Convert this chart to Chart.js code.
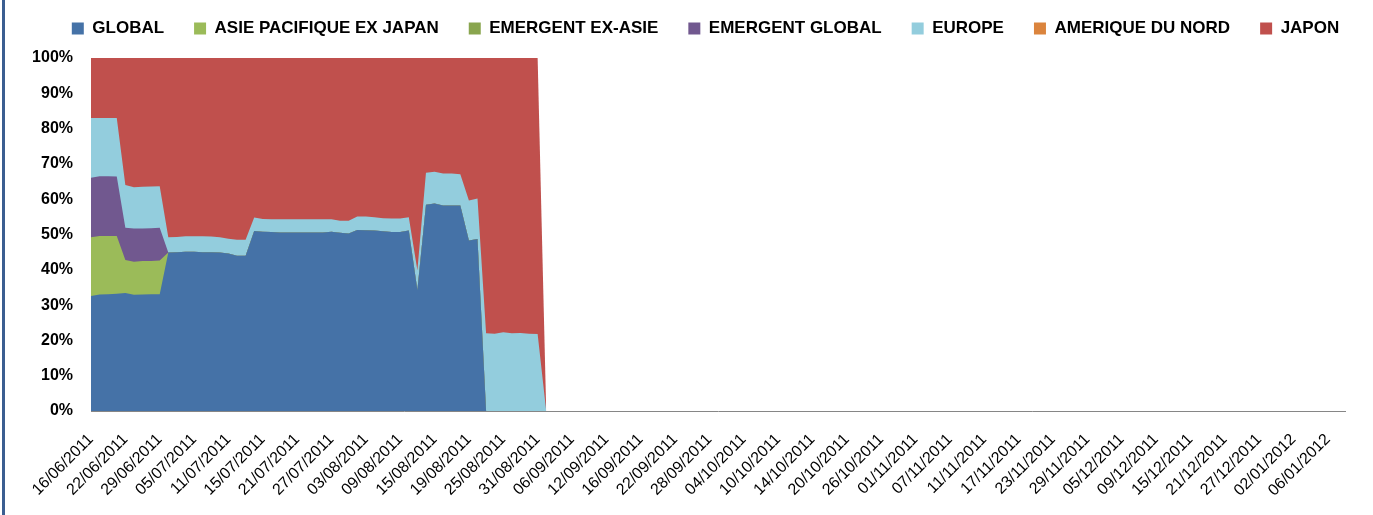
<!DOCTYPE html>
<html>
<head>
<meta charset="utf-8">
<script src="https://cdn.jsdelivr.net/npm/chart.js@4.4.1/dist/chart.umd.min.js"></script>
<style>
  html, body { margin: 0; padding: 0; background: #fff; }
  #wrap { position: relative; width: 1373px; height: 515px; overflow: hidden; }
  #chart { position: absolute; left: 0; top: -10px; }
  #edge { position: absolute; left: 2px; top: 0; width: 3px; height: 515px; background: #3b5e91; }
</style>
</head>
<body>
<div id="wrap">
  <canvas id="chart" width="1373" height="523"></canvas>
  <div id="edge"></div>
</div>
<script>
// Trading days from 16/06/2011 (two days absent from the sheet), label every 4 days
const startDate = new Date(2011, 5, 16);
const dayCount = 147;
const labelStep = 4;
const missingDays = ['24/06/2011', '29/07/2011'];

const categories = [];
for (let d = new Date(startDate); categories.length < dayCount; d.setDate(d.getDate() + 1)) {
  const wd = d.getDay();
  if (wd === 0 || wd === 6) continue;
  const dd = String(d.getDate()).padStart(2, '0');
  const mm = String(d.getMonth() + 1).padStart(2, '0');
  const txt = dd + '/' + mm + '/' + d.getFullYear();
  if (missingDays.includes(txt)) continue;
  categories.push(txt);
}

const globalShare = [
  32.6, 33.0, 33.1, 33.2, 33.4, 32.9, 33.0, 33.1, 33.1, 44.9,
  45.0, 45.1, 45.1, 45.0, 45.0, 44.9, 44.6, 44.0, 44.0, 51.0,
  50.8, 50.7, 50.6, 50.6, 50.6, 50.6, 50.6, 50.6, 50.8, 50.5,
  50.3, 51.3, 51.2, 51.1, 50.9, 50.7, 50.7, 51.1, 34.3, 58.4,
  58.8, 58.2, 58.2, 58.2, 48.3, 48.7, 0, 0, 0, 0,
  0, 0, 0, 0
];
const asiePacShare = [
  16.6, 16.6, 16.5, 16.4, 9.4, 9.4, 9.5, 9.4, 9.5, 0,
  0, 0, 0, 0, 0, 0, 0, 0, 0, 0,
  0, 0, 0, 0, 0, 0, 0, 0, 0, 0,
  0, 0, 0, 0, 0, 0, 0, 0, 0, 0,
  0, 0, 0, 0, 0, 0, 0, 0, 0, 0,
  0, 0, 0, 0
];
const emergentExAsieShare = [
  0, 0, 0, 0, 0, 0, 0, 0, 0, 0,
  0, 0, 0, 0, 0, 0, 0, 0, 0, 0,
  0, 0, 0, 0, 0, 0, 0, 0, 0, 0,
  0, 0, 0, 0, 0, 0, 0, 0, 0, 0,
  0, 0, 0, 0, 0, 0, 0, 0, 0, 0,
  0, 0, 0, 0
];
const emergentGlobalShare = [
  16.9, 16.9, 16.9, 16.8, 9.1, 9.4, 9.2, 9.3, 9.3, 0,
  0, 0, 0, 0, 0, 0, 0, 0, 0, 0,
  0, 0, 0, 0, 0, 0, 0, 0, 0, 0,
  0, 0, 0, 0, 0, 0, 0, 0, 0, 0,
  0, 0, 0, 0, 0, 0, 0, 0, 0, 0,
  0, 0, 0, 0
];
const europeShare = [
  16.9, 16.5, 16.5, 16.6, 12.1, 11.7, 11.8, 11.8, 11.8, 4.3,
  4.3, 4.4, 4.4, 4.5, 4.4, 4.3, 4.2, 4.5, 4.5, 3.8,
  3.6, 3.6, 3.7, 3.7, 3.7, 3.7, 3.7, 3.7, 3.5, 3.4,
  3.6, 3.8, 3.9, 3.8, 3.7, 3.8, 3.8, 3.8, 5.6, 9.1,
  9.0, 9.1, 9.1, 8.9, 11.3, 11.5, 22.0, 21.9, 22.3, 22.0,
  22.1, 21.9, 21.8, 0
];
const ameriqueShare = [
  0, 0, 0, 0, 0, 0, 0, 0, 0, 0,
  0, 0, 0, 0, 0, 0, 0, 0, 0, 0,
  0, 0, 0, 0, 0, 0, 0, 0, 0, 0,
  0, 0, 0, 0, 0, 0, 0, 0, 0, 0,
  0, 0, 0, 0, 0, 0, 0, 0, 0, 0,
  0, 0, 0, 0
];
const japonShare = [
  17.0, 17.0, 17.0, 17.0, 36.0, 36.6, 36.5, 36.4, 36.3, 50.8,
  50.7, 50.5, 50.5, 50.5, 50.6, 50.8, 51.2, 51.5, 51.5, 45.2,
  45.6, 45.7, 45.7, 45.7, 45.7, 45.7, 45.7, 45.7, 45.7, 46.1,
  46.1, 44.9, 44.9, 45.1, 45.4, 45.5, 45.5, 45.1, 60.1, 32.5,
  32.2, 32.7, 32.7, 32.9, 40.4, 39.8, 78.0, 78.1, 77.7, 78.0,
  77.9, 78.1, 78.2, 0
];

const yTicks = [0, 10, 20, 30, 40, 50, 60, 70, 80, 90, 100];

function area(label, data, color, filled) {
  return {
    label: label,
    data: data,
    backgroundColor: color,
    borderColor: color,
    borderWidth: 0,
    pointRadius: 0,
    fill: filled ? 'origin' : false,
  };
}

// more room under the legend, and move the legend row a bit to the right
const legendSpacing = {
  id: 'legendSpacing',
  beforeInit(chart) {
    const fit = chart.legend.fit;
    chart.legend.fit = function () {
      fit.call(this);
      this.height += 11;
    };
  },
  afterLayout(chart) {
    chart.legend.left += 33;
    chart.legend.right += 33;
  },
};

const ctx = document.getElementById('chart').getContext('2d');
new Chart(ctx, {
  type: 'line',
  data: {
    labels: categories,
    datasets: [
      area('GLOBAL', globalShare, '#4572a7', true),
      area('ASIE PACIFIQUE EX JAPAN', asiePacShare, '#9bbb59', true),
      area('EMERGENT EX-ASIE', emergentExAsieShare, '#89a54e', false),
      area('EMERGENT GLOBAL', emergentGlobalShare, '#71588f', true),
      area('EUROPE', europeShare, '#93cddd', true),
      area('AMERIQUE DU NORD', ameriqueShare, '#db843d', false),
      area('JAPON', japonShare, '#c0504d', true),
    ],
  },
  plugins: [legendSpacing],
  options: {
    responsive: false,
    animation: false,
    layout: { padding: { left: 0, right: 28, top: 0, bottom: 0 } },
    elements: { line: { tension: 0, borderWidth: 0 } },
    scales: {
      x: {
        grid: { display: false },
        border: { display: true, color: '#868686', width: 1 },
        ticks: {
          autoSkip: false,
          maxRotation: 45,
          minRotation: 45,
          padding: 11,
          color: '#000',
          font: { family: 'Liberation Sans', size: 16 },
          callback: (v, i) => (i % labelStep === 0 ? categories[i] : ''),
        },
        afterFit: (s) => { s.height = 102; },
      },
      y: {
        stacked: true,
        min: 0,
        max: 100,
        afterBuildTicks: (s) => { s.ticks = yTicks.map((v) => ({ value: v })); },
        grid: { display: false },
        border: { display: true, color: '#868686', width: 1 },
        ticks: {
          padding: 10,
          color: '#000',
          font: { family: 'Liberation Sans', size: 16, weight: 'bold' },
          callback: (v) => v + '%',
        },
        afterFit: (s) => { s.width = 91; },
      },
    },
    plugins: {
      tooltip: { enabled: false },
      legend: {
        position: 'top',
        labels: {
          boxWidth: 12,
          boxHeight: 12,
          padding: 30,
          color: '#000',
          font: { family: 'Liberation Sans', size: 17, weight: 'bold' },
        },
      },
    },
  },
});
</script>
</body>
</html>
